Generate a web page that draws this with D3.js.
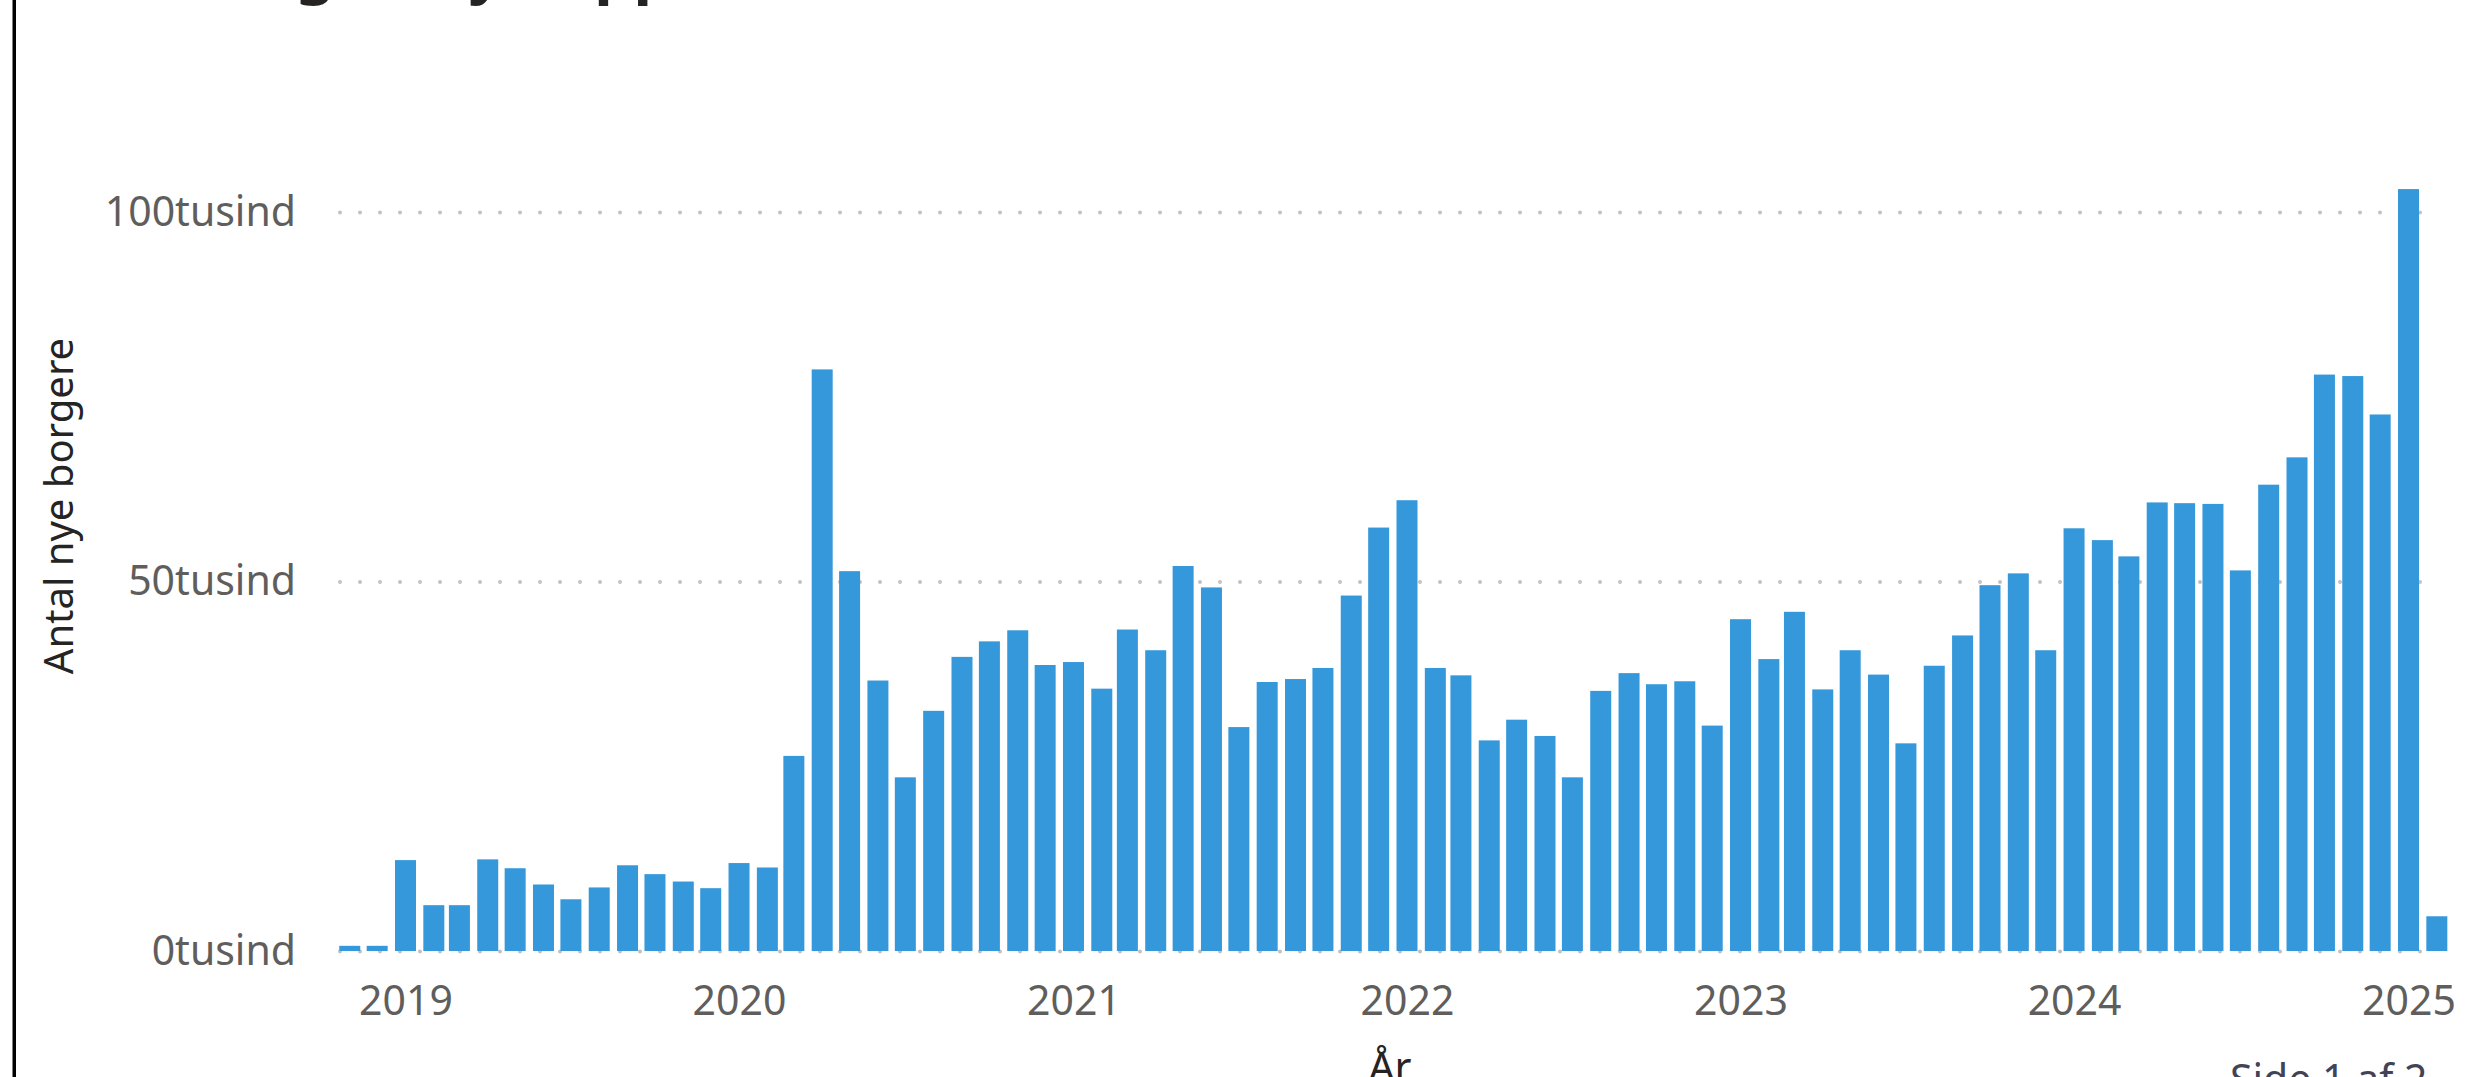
<!DOCTYPE html>
<html lang="da">
<head>
    <meta charset="UTF-8">
    <title>Antal nye borgere</title>
    <script src="https://d3js.org/d3.v7.min.js"></script>
    <style>
        body { margin: 0; background: #ffffff; overflow: hidden; }
        svg { display: block; font-family: "Segoe UI", "Noto Sans", sans-serif; }
    </style>
</head>
<body>

<div id="chart"></div>

<script>
    // months shown on the time axis (one bar per month)
    var months = [
        "2018-11", "2018-12",
        "2019-01", "2019-02", "2019-03", "2019-04", "2019-05", "2019-06",
        "2019-07", "2019-08", "2019-09", "2019-10", "2019-11", "2019-12",
        "2020-01", "2020-02", "2020-03", "2020-04", "2020-05", "2020-06",
        "2020-07", "2020-08", "2020-09", "2020-10", "2020-11", "2020-12",
        "2021-01", "2021-02", "2021-03", "2021-04", "2021-05", "2021-06",
        "2021-07", "2021-08", "2021-09", "2021-10", "2021-11", "2021-12",
        "2022-01", "2022-02", "2022-03", "2022-04", "2022-05", "2022-06",
        "2022-07", "2022-08", "2022-09", "2022-10", "2022-11", "2022-12",
        "2023-01", "2023-02", "2023-03", "2023-04", "2023-05", "2023-06",
        "2023-07", "2023-08", "2023-09", "2023-10", "2023-11", "2023-12",
        "2024-01", "2024-02", "2024-03", "2024-04", "2024-05", "2024-06",
        "2024-07", "2024-08", "2024-09", "2024-10", "2024-11", "2024-12",
        "2025-01", "2025-02"
    ];

    // new citizens per month
    var newCitizens = [
        700, 700,
        12300, 6200, 6200, 12400, 11200, 9000,
        7000, 8600, 11600, 10400, 9400, 8500,
        11900, 11300, 26400, 78700, 51400, 36600,
        23500, 32500, 39800, 41900, 43400, 38700,
        39100, 35500, 43500, 40700, 52100, 49200,
        30300, 36400, 36800, 38300, 48100, 57300,
        61000, 38300, 37300, 28500, 31300, 29100,
        23500, 35200, 37600, 36100, 36500, 30500,
        44900, 39500, 45900, 35400, 40700, 37400,
        28100, 38600, 42700, 49500, 51100, 40700,
        57200, 55600, 53400, 60700, 60600, 60500,
        51500, 63100, 66800, 78000, 77800, 72600,
        103100, 4700
    ];

    var yTicks = [0, 50000, 100000];
    var xDomain = ["2019-01", "2025-01"];

    var titleText = "Udvikling af nye app-konti";
    var yTitle = "Antal nye borgere";
    var xTitle = "År";
    var pageText = "Side 1 af 2";

    var W = 2470, H = 1077;
    var plot = {left: 340, right: 2440, top: 212, bottom: 951};
    var barWidth = 21;
    var barColor = "#3598db";

    var parseMonth = d3.utcParse("%Y-%m");
    var data = months.map(function (m, i) {
        return {date: parseMonth(m), value: newCitizens[i]};
    });

    var x = d3.scaleUtc()
        .domain(xDomain.map(parseMonth))
        .range([405.5, 2408.5]);
    var y = d3.scaleLinear()
        .domain([0, 100000])
        .range([plot.bottom, plot.top]);

    var svg = d3.select("#chart")
        .append("svg")
            .attr("width", W)
            .attr("height", H);

    // left page border
    svg.append("rect")
        .attr("x", 12.5)
        .attr("y", 0)
        .attr("width", 3.5)
        .attr("height", H)
        .attr("fill", "#000");

    // title, mostly scrolled off the top
    svg.append("text")
        .attr("x", 40)
        .attr("y", -9)
        .attr("font-size", 62)
        .attr("font-weight", "bold")
        .attr("fill", "#252423")
        .text(titleText);

    // y axis with dotted gridlines
    var yAxis = svg.append("g")
        .attr("transform", "translate(" + plot.left + ",0)")
        .call(d3.axisLeft(y)
            .tickValues(yTicks)
            .tickSize(-(plot.right - plot.left))
            .tickPadding(44)
            .tickFormat(function (d) { return (d / 1000) + "tusind"; }));
    yAxis.select(".domain").remove();
    yAxis.selectAll(".tick line")
        .attr("stroke", "#c2c2c2")
        .attr("stroke-width", 4)
        .attr("stroke-linecap", "round")
        .attr("stroke-dasharray", "0 20");
    yAxis.selectAll(".tick text")
        .attr("font-size", 41)
        .attr("font-family", "\"Segoe UI\", \"Noto Sans\", sans-serif")
        .attr("fill", "#605e5c");

    // bars
    svg.append("g")
        .selectAll("rect")
        .data(data)
        .enter()
        .append("rect")
            .attr("x", function (d) { return x(d.date) - barWidth / 2; })
            .attr("y", function (d) { return y(d.value); })
            .attr("width", barWidth)
            .attr("height", function (d) { return y(0) - y(d.value); })
            .attr("fill", barColor);

    // x axis, years
    var xAxis = svg.append("g")
        .attr("transform", "translate(0," + plot.bottom + ")")
        .call(d3.axisBottom(x)
            .ticks(d3.utcYear.every(1))
            .tickSize(0)
            .tickPadding(35)
            .tickFormat(d3.utcFormat("%Y")));
    xAxis.select(".domain").remove();
    xAxis.selectAll(".tick text")
        .attr("font-size", 41)
        .attr("font-family", "\"Segoe UI\", \"Noto Sans\", sans-serif")
        .attr("fill", "#605e5c");

    // axis titles
    svg.append("text")
        .attr("transform", "translate(73," + 506 + ") rotate(-90)")
        .attr("text-anchor", "middle")
        .attr("font-size", 40)
        .attr("fill", "#252423")
        .text(yTitle);

    svg.append("text")
        .attr("x", (plot.left + plot.right) / 2)
        .attr("y", 1082)
        .attr("text-anchor", "middle")
        .attr("font-size", 41)
        .attr("fill", "#252423")
        .text(xTitle);

    // page number, cut at the bottom edge
    svg.append("text")
        .attr("x", 2230)
        .attr("y", 1094)
        .attr("font-size", 41)
        .attr("fill", "#414357")
        .text(pageText);
</script>

</body>
</html>
